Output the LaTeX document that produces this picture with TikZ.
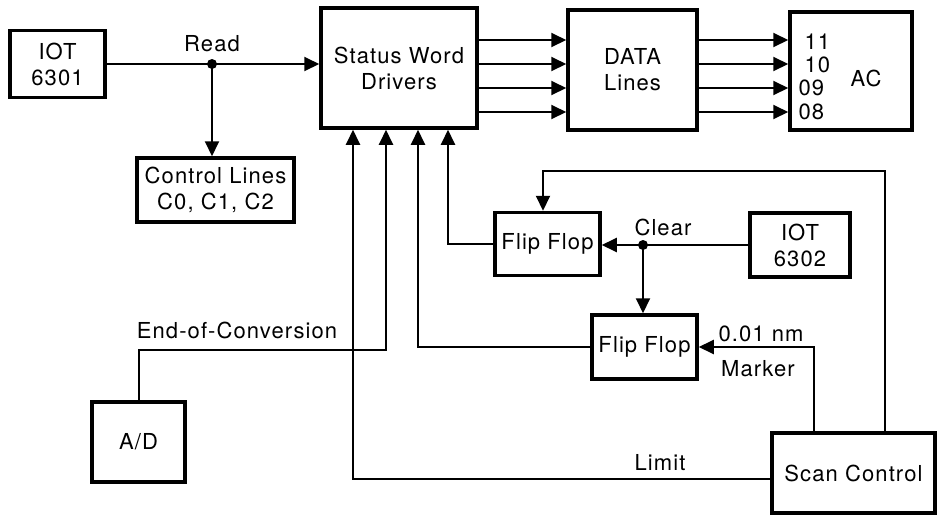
\documentclass[tikz,border=0pt]{standalone}
\usepackage{fontspec}
\setmainfont{TeX Gyre Heros}[LetterSpace=5]
\usetikzlibrary{arrows.meta}

\tikzset{
  box/.style={draw, line width=3.5pt, inner sep=0pt, align=center},
  wire/.style={line width=2pt},
  arr/.style={wire, -{Triangle[length=15pt,width=14pt]}},
}

\begin{document}
\begin{tikzpicture}[x=1pt, y=-1pt, font=\fontsize{22}{26}\selectfont]
  \useasboundingbox (0,0) rectangle (938,515);

  % the boxes
  \node[box, minimum width=95pt, minimum height=67pt] (iot1) at (57.5,64) {IOT\\6301};
  \node[box, minimum width=157pt, minimum height=64pt] (ctl) at (215.5,190) {Control Lines\\C0, C1, C2};
  \node[box, minimum width=156pt, minimum height=120pt] (swd) at (399,68) {Status Word\\Drivers};
  \node[box, minimum width=129pt, minimum height=120pt] (data) at (632.5,70) {DATA\\Lines};
  \node[box, minimum width=122pt, minimum height=118pt] (ac) at (851,71) {};
  \node (aclbl) at (866,78) {AC};
  \node[box, minimum width=105pt, minimum height=63pt] (ff1) at (547.5,244) {Flip Flop};
  \node[box, minimum width=105pt, minimum height=64pt] (ff2) at (644.5,347) {Flip Flop};
  \node[box, minimum width=100pt, minimum height=64pt] (iot2) at (800,245) {IOT\\6302};
  \node[box, minimum width=93pt, minimum height=80pt] (ad) at (138.5,442) {A/D};
  \node[box, minimum width=163pt, minimum height=80pt] (scan) at (853.5,473) {Scan Control};

  % bit labels inside AC
  \node[anchor=west] (b11) at (801,42) {11};
  \node[anchor=west] (b10) at (801,65) {10};
  \node[anchor=west] (b09) at (795,88) {09};
  \node[anchor=west] (b08) at (795,112) {08};

  % read pulse
  \coordinate (read) at (212,64);
  \draw[wire] (iot1.east) -- (read);
  \draw[arr] (read) -- (read -| swd.west);
  \draw[arr] (read) -- (read |- ctl.north);
  \fill (read) circle[radius=5pt];
  \node (readlbl) at (212,44) {Read};

  % data bus
  \foreach \y in {40,64,88,112} {
    \draw[arr] (swd.east |- 0,\y) -- (data.west |- 0,\y);
    \draw[arr] (data.east |- 0,\y) -- (ac.west |- 0,\y);
  }

  % inputs of the status word
  \coordinate (s1) at ([xshift=-46pt]swd.south);
  \coordinate (s2) at ([xshift=-13pt]swd.south);
  \coordinate (s3) at ([xshift=19pt]swd.south);
  \coordinate (s4) at ([xshift=49pt]swd.south);
  \draw[arr] (ff1.west) -| (s4);
  \draw[arr] (ff2.west) -| (s3);
  \coordinate (eoc) at (386,350);
  \draw[arr] (ad.north) |- (eoc) -- (s2);
  \node (eoclbl) at (237,330) {End-of-Conversion};
  \draw[arr] ([yshift=-6pt]scan.west) -| (s1);
  \node (limlbl) at (660,463) {Limit};

  % clear pulse
  \coordinate (clr) at (643,245);
  \draw[wire] (iot2.west) -- (clr);
  \draw[arr] (clr) -- (clr -| ff1.east);
  \draw[arr] (clr) -- (clr |- ff2.north);
  \fill (clr) circle[radius=5pt];
  \node (clrlbl) at (663,227) {Clear};

  % scan control outputs
  \draw[arr] ([xshift=-39.5pt]scan.north) |- (ff2.east);
  \node (nmlbl) at (761,334) {0.01 nm};
  \node (mklbl) at (758,369) {Marker};
  \draw[arr] ([xshift=31.5pt]scan.north) -- ++(0,-260) -| ([xshift=-4.5pt]ff1.north);
\end{tikzpicture}
\end{document}
